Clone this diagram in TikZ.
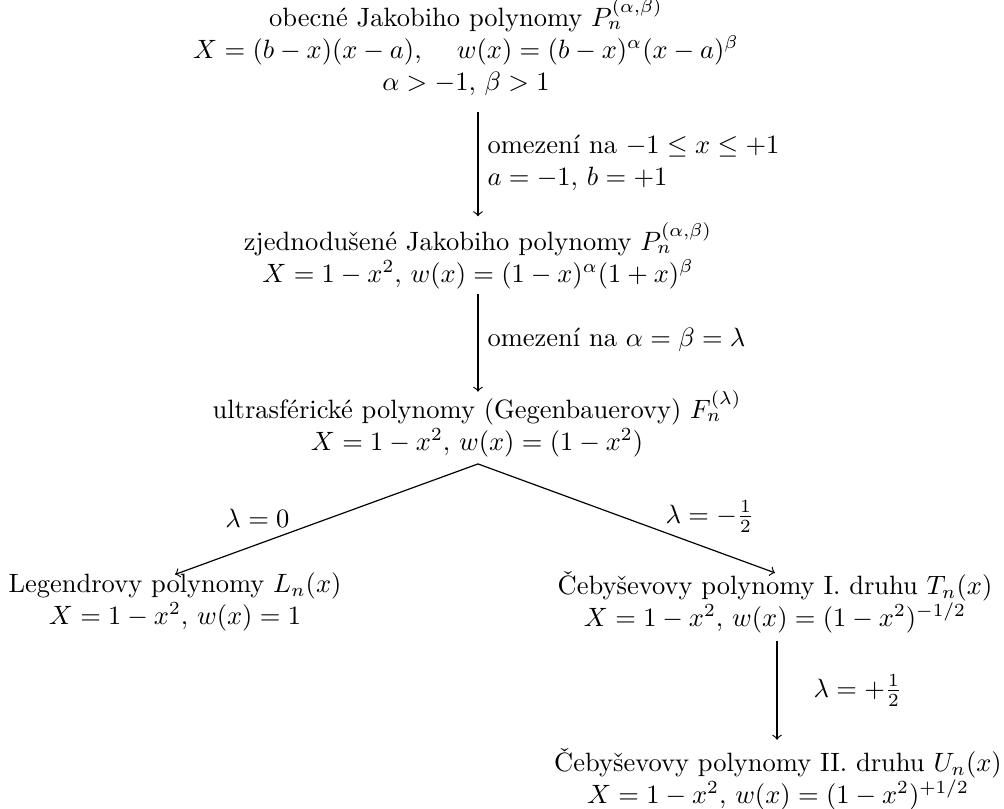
\documentclass[tikz,border=0pt]{standalone}
\usepackage{amsmath}
\begin{document}
\begin{tikzpicture}[x=0.3774pt,y=-0.3774pt,
  famnode/.style={align=center,inner sep=3pt},
  lbl/.style={inner sep=0pt},
  conn/.style={->,line width=0.45pt}]
\useasboundingbox (0,0) rectangle (1004,809);
\coordinate (ax) at (478,0);
\coordinate (bx) at (777,0);
\node[famnode] (n1) at (466,47) {obecné Jakobiho polynomy $P_n^{(\alpha,\beta)}$\\
  $X=(b-x)(x-a)$,\quad\ $w(x)=(b-x)^\alpha(x-a)^\beta$\\
  $\alpha>-1,\,\beta>1$};
\node[famnode] (n2) at (478,256) {zjednodušené Jakobiho polynomy $P_n^{(\alpha,\beta)}$\\
  $X=1-x^2,\,w(x)=(1-x)^\alpha(1+x)^\beta$};
\node[famnode] (n3) at (477,424) {ultrasférické polynomy (Gegenbauerovy) $F_n^{(\lambda)}$\\
  $X=1-x^2,\,w(x)=(1-x^2)$};
\node[famnode] (n4) at (175,602) {Legendrovy polynomy $L_n(x)$\\
  $X=1-x^2,\,w(x)=1$};
\node[famnode] (n5) at (775,602) {Čebyševovy polynomy I. druhu $T_n(x)$\\
  $X=1-x^2,\,w(x)=(1-x^2)^{-1/2}$};
\node[famnode] (n6) at (778,779) {Čebyševovy polynomy II. druhu $U_n(x)$\\
  $X=1-x^2,\,w(x)=(1-x^2)^{+1/2}$};
\draw[conn,shorten <=3pt,shorten >=-0.7pt] (n1.south -| ax) -- (n2.north -| ax);
\draw[conn,shorten <=-1.5pt,shorten >=-3.5pt] (n2.south -| ax) -- (n3.north -| ax);
\draw[conn] ([yshift=0.6pt]n3.south -| ax) -- ([yshift=-3.8pt]n4.north);
\draw[conn] ([yshift=0.6pt]n3.south -| ax) -- ([yshift=-3.8pt]n5.north);
\draw[conn] (n5.south -| bx) -- (n6.north -| bx);
\node[lbl,anchor=west,align=left] (l1) at (487,163) {omezení na $-1\le x\le+1$\\ $a=-1,\,b=+1$};
\node[lbl,anchor=west] (l2) at (487,340) {omezení na $\alpha=\beta=\lambda$};
\node[lbl,anchor=base east] (l3) at (290,527) {$\lambda=0$};
\node[lbl,anchor=base west] (l4) at (665,523) {$\lambda=-\frac12$};
\node[lbl,anchor=base west] (l5) at (813,697) {$\lambda=+\frac12$};
\end{tikzpicture}
\end{document}
